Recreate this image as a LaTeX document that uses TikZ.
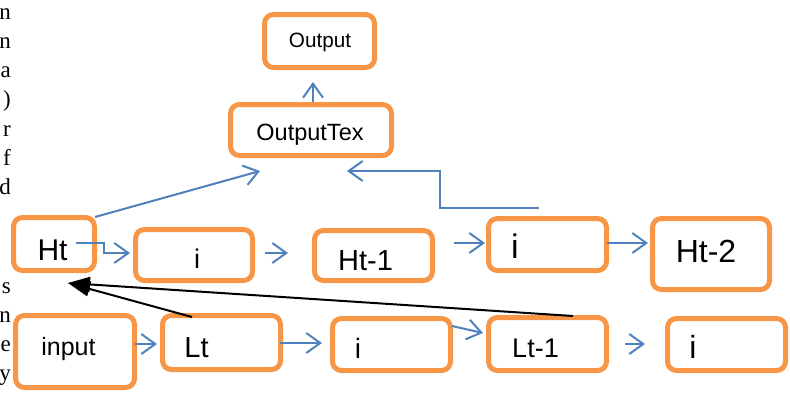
\documentclass[tikz,border=0pt]{standalone}
\usepackage{fontspec}
\setmainfont{Liberation Serif}
\newfontfamily\arialish{Liberation Sans}
\usetikzlibrary{arrows.meta}
\definecolor{boxorange}{HTML}{F79646}
\definecolor{flowblue}{HTML}{4F81BD}

\begin{document}
\begin{tikzpicture}[x=1pt,y=-1pt,
  box/.style={draw=boxorange, line width=5pt, rounded corners=9pt, inner sep=0pt, fill=white},
  lbl/.style={anchor=base, inner sep=0pt, font=\arialish\fontsize{#1}{#1}\selectfont},
  barrow/.style={draw=flowblue, line width=2pt, -{Straight Barb[length=14pt,width=20pt]}},
  karrow/.style={draw=black, line width=2pt, -{Triangle[length=22pt,width=15pt]}},
  margin/.style={anchor=base east, inner sep=0pt, font=\fontsize{23}{23}\selectfont}
]
\useasboundingbox (0,0) rectangle (790,392);

% ends of justified text lines at the left edge
\node[margin] (m1) at (11,19) {n};
\node[margin] (m2) at (11,48.3) {n};
\node[margin] (m3) at (11,77.6) {a};
\node[margin] (m4) at (11,106.9) {)};
\node[margin] (m5) at (11,136.2) {r};
\node[margin] (m6) at (11,165.5) {f};
\node[margin] (m7) at (11,194.8) {d};
\node[margin] (m8) at (11,293) {s};
\node[margin] (m9) at (11,322) {n};
\node[margin] (m10) at (11,351) {e};
\node[margin] (m11) at (11,380) {y};

% boxes
\node[box, minimum width=110pt, minimum height=53pt] (out)  at (319.5,41)  {};
\node[box, minimum width=161pt, minimum height=51pt] (otex) at (311,130)   {};
\node[box, minimum width=81pt,  minimum height=53pt] (ht)   at (54,244)    {};
\node[box, minimum width=117pt, minimum height=51pt] (ia)   at (194,255)   {};
\node[box, minimum width=118pt, minimum height=50pt] (hta)  at (373.5,255.5) {};
\node[box, minimum width=118pt, minimum height=52pt] (ib)   at (547.5,244.5) {};
\node[box, minimum width=117pt, minimum height=71pt] (htb)  at (711,254)   {};
\node[box, minimum width=119pt, minimum height=72pt] (inp)  at (75,351.5)  {};
\node[box, minimum width=118pt, minimum height=54pt] (lt)   at (221.5,342.5) {};
\node[box, minimum width=118pt, minimum height=52pt] (ic)   at (391.5,344.5) {};
\node[box, minimum width=118pt, minimum height=53pt] (lta)  at (547.5,344)  {};
\node[box, minimum width=118pt, minimum height=52pt] (id)   at (726.5,344.5) {};

% box labels
\node[lbl=20.7] (out-t)  at (320,47)    {Output};
\node[lbl=23.5] (otex-t) at (310,140)   {OutputTex};
\node[lbl=30]   (ht-t)   at (52.5,260)  {Ht};
\node[lbl=27]   (ia-t)   at (197,268)   {i};
\node[lbl=29]   (hta-t)  at (365.5,270) {Ht-1};
\node[lbl=34]   (ib-t)   at (515,258)   {i};
\node[lbl=32]   (htb-t)  at (706,262)   {Ht-2};
\node[lbl=25]   (inp-t)  at (68.5,355)  {input};
\node[lbl=29]   (lt-t)   at (196.5,357) {Lt};
\node[lbl=28]   (ic-t)   at (358,358)   {i};
\node[lbl=27]   (lta-t)  at (535.5,357) {Lt-1};
\node[lbl=32]   (id-t)   at (693,358)   {i};

% free ends of the connectors
\coordinate (outin)   at (313,82);
\coordinate (htout)   at (95,217);
\coordinate (otexl)   at (260,171);
\coordinate (fbstart) at (539,208);
\coordinate (otexr)   at (347,171);
\coordinate (htgo)    at (76,243);
\coordinate (iatip)   at (130,253);
\coordinate (ltjoin)  at (68,283);

% blue flow arrows
\draw[barrow] (otex.north -| outin) -- (outin);
\draw[barrow] (htout) -- (otexl);
\draw[barrow] (fbstart) -- (440,208) -- (440,171) -- (otexr);
\draw[barrow] (htgo) -- (104,243) -- (104,253) -- (iatip);
\draw[barrow] (265,253) -- (288,253);
\draw[barrow] (454,243) -- (485,243);
\draw[barrow] (607,243) -- (648,243);
\draw[barrow] (135,344) -- (157,344);
\draw[barrow] (280,343) -- (322,343);
\draw[barrow] (452,326) -- (483,333);
\draw[barrow] (625,344) -- (645,344);

% black arrows back to Ht
\draw[karrow] (192,317) -- (ltjoin);
\draw[karrow] (573,316) -- (ltjoin);
\end{tikzpicture}
\end{document}
